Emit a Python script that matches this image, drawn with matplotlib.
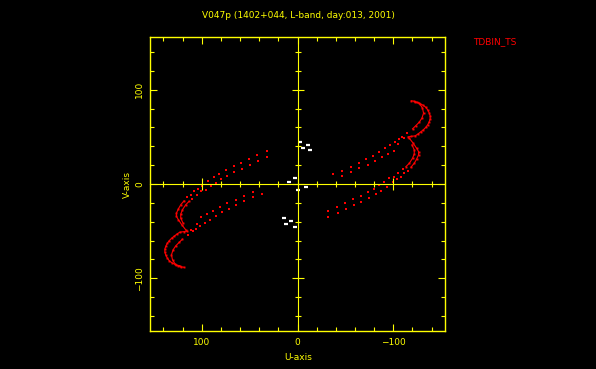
"""
UV coverage plot, V047p (1402+044), L-band.
Points read off the original plot; the lower-left half is the
conjugate (-u, -v) of the upper-right half.
"""
import matplotlib
matplotlib.use('Agg')
import matplotlib.pyplot as plt
from matplotlib.ticker import MultipleLocator, FixedLocator
import numpy as np

# ===== data, upper-right half of the uv plane =====
# track A1, outer line of the upper hook
a1_hook_u = [-118.8, -121.9, -125.0, -128.1, -131.3, -133.9, -135.9, -137.5, -138.5,
             -138.5, -137.5, -135.9, -133.9, -131.3, -128.6, -126.0, -122.9, -119.0, -115.6]
a1_hook_v = [88.3, 87.8, 86.7, 85.1, 83.5, 81.4, 78.7, 75.5, 72.3,
             69.1, 66.0, 62.8, 60.1, 57.4, 55.3, 53.2, 51.1, 50.6, 50.0]
a1_tail_u = [-111.5, -106.3, -101.8, -96.6, -91.7, -85.4, -78.4, -71.6, -63.9, -56.0, -46.6, -37.5]
a1_tail_v = [48.9, 47.9, 45.0, 41.5, 38.0, 33.7, 30.1, 26.3, 22.7, 18.4, 14.1, 10.6]

# track A2, inner line of the upper hook
a2_hook_u = [-122.9, -127.1, -130.5, -131.6, -129.9, -127.1, -123.6, -120.1]
a2_hook_v = [86.7, 85.9, 80.5, 75.2, 69.9, 65.6, 62.0, 58.5]
a2_tail_u = [-114.6, -109.4, -105.2, -101.0, -94.8, -88.2, -81.3, -73.2, -64.6, -56.0, -46.1]
a2_tail_v = [54.3, 50.0, 42.6, 35.4, 31.9, 28.4, 24.5, 19.9, 16.7, 12.4, 8.5]

# track B1, outer line of the middle hook
b1_hook_u = [-116.7, -120.8, -124.3, -126.4, -126.4, -124.3, -121.9, -118.4]
b1_hook_v = [48.6, 43.3, 38.0, 34.4, 30.9, 26.3, 22.0, 17.8]
b1_tail_u = [-114.9, -111.5, -108.0, -103.4, -99.3, -93.0, -87.2, -82.0, -75.0,
             -66.4, -59.4, -50.7, -42.0, -32.3]
b1_tail_v = [14.1, 11.4, 7.8, 5.0, 2.4, -3.5, -7.4, -11.0, -14.6,
             -18.8, -22.3, -26.6, -30.5, -34.8]

# track B2, inner line of the middle hook
b2_hook_u = [-119.5, -121.9, -121.9, -120.1, -116.7, -113.2]
b2_hook_v = [41.5, 36.2, 31.9, 27.3, 22.0, 18.4]
b2_tail_u = [-109.7, -104.5, -100.3, -95.8, -90.6, -85.4, -80.2, -73.2, -66.4,
             -58.3, -49.7, -40.9, -31.6]
b2_tail_v = [15.6, 12.0, 7.8, 6.1, 2.4, -1.1, -5.3, -8.8, -12.4,
             -16.3, -20.5, -24.8, -28.4]

# short baselines (white marks near the centre)
short_u = [-2.6, -11.2, -6.2, -13.5, 2.6, 8.7, -8.7, -1.0, 14.5, 6.6, 11.5, 3.1]
short_v = [45.0, 41.5, 38.6, 36.2, 6.1, 2.4, -2.9, -6.4, -36.5, -39.4, -42.9, -45.4]

title = 'V047p (1402+044, L-band, day:013, 2001)'
label_tag = 'TDBIN_TS'

# ===== plot =====
W, H = 596, 369
fig = plt.figure(figsize=(W / 100, H / 100), dpi=100, facecolor='black')
rect = [150 / W, 1 - 331 / H, 295 / W, 294 / H]
ax = fig.add_axes(rect)
ax.set_facecolor('black')

yel = '#ffff00'
fs = 6.5

hooks = [(a1_hook_u, a1_hook_v), (a2_hook_u, a2_hook_v),
         (b1_hook_u, b1_hook_v), (b2_hook_u, b2_hook_v)]
tails = [(a1_tail_u, a1_tail_v), (a2_tail_u, a2_tail_v),
         (b1_tail_u, b1_tail_v), (b2_tail_u, b2_tail_v)]

for sign in (1, -1):
    for u, v in hooks:
        u = sign * np.array(u)
        v = sign * np.array(v)
        ax.plot(u, v, '-', color='red', lw=0.8)
        ax.plot(u, v, 's', color='red', ms=1.4, mew=0)
    for u, v in tails:
        ax.plot(sign * np.array(u), sign * np.array(v), 's',
                color='red', ms=1.6, mew=0)

ax.plot(short_u, short_v, '_', color='white', ms=3.5, mew=1.6)

ax.set_xlim(154, -154)
ax.set_ylim(-156, 156)

for s in ax.spines.values():
    s.set_color(yel)
    s.set_linewidth(1.0)

for a in (ax.xaxis, ax.yaxis):
    a.set_major_locator(FixedLocator([-100, 0, 100]))
    a.set_minor_locator(MultipleLocator(20))
ax.tick_params(which='both', direction='in', top=True, right=True,
               color=yel, width=0.8, labelcolor=yel, labelsize=fs)
ax.tick_params(which='major', length=5)
ax.tick_params(which='minor', length=3)
ax.tick_params(axis='x', pad=5)
ax.tick_params(axis='y', pad=4)
for lab in ax.get_yticklabels():
    lab.set_rotation(90)
    lab.set_va('center')

# zero lines with their own ticks
ax0 = fig.add_axes(rect, sharex=ax, sharey=ax)
ax0.patch.set_visible(False)
ax0.spines['left'].set_position(('data', 0))
ax0.spines['bottom'].set_position(('data', 0))
ax0.spines['top'].set_visible(False)
ax0.spines['right'].set_visible(False)
ax0.spines['left'].set_color(yel)
ax0.spines['bottom'].set_color(yel)
ax0.tick_params(which='both', direction='inout', color=yel, width=0.8,
                labelleft=False, labelbottom=False)
ax0.tick_params(which='major', length=8)
ax0.tick_params(which='minor', length=5)

fig.text(298 / W, 1 - 16 / H, title, ha='center', va='center', color=yel, fontsize=fs)
fig.text(473 / W, 1 - 42 / H, label_tag, ha='left', va='center', color='red', fontsize=fs)
fig.text(127 / W, 1 - 185 / H, 'V-axis', rotation=90, ha='center', va='center',
         color=yel, fontsize=fs)
fig.text(298 / W, 1 - 358 / H, 'U-axis', ha='center', va='center', color=yel, fontsize=fs)

fig.savefig('out.png', dpi=100, facecolor='black')
